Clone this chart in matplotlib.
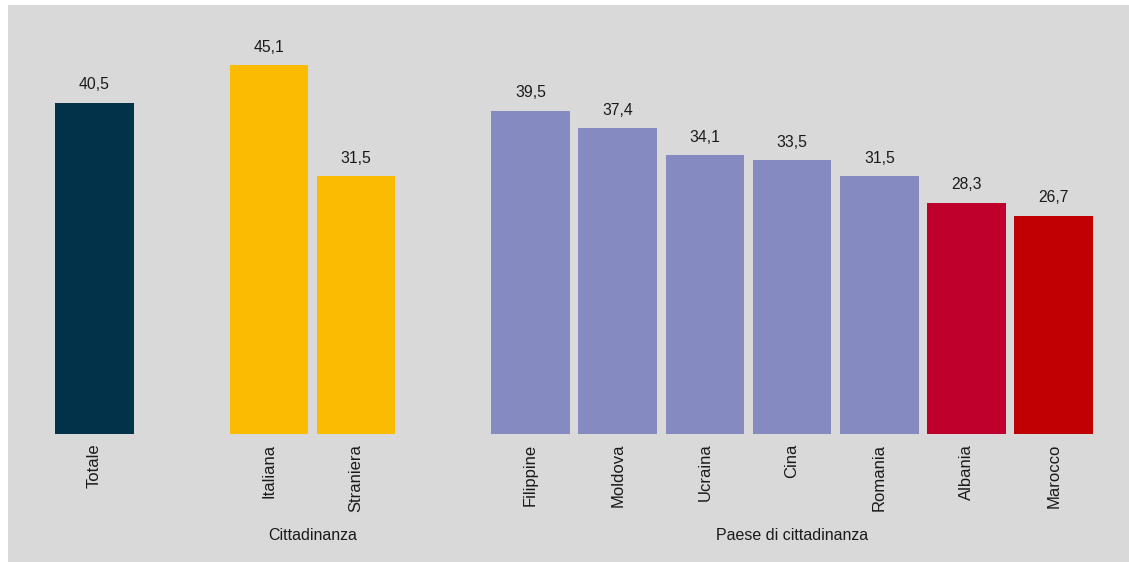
import matplotlib
matplotlib.use("Agg")
import matplotlib.pyplot as plt
from matplotlib.patches import Rectangle

plt.rcParams['font.family'] = ['Liberation Sans', 'DejaVu Sans']

categories = ["Totale", "Italiana", "Straniera", "Filippine", "Moldova", "Ucraina",
              "Cina", "Romania", "Albania", "Marocco"]
values = [40.5, 45.1, 31.5, 39.5, 37.4, 34.1, 33.5, 31.5, 28.3, 26.7]
positions = [0, 2, 3, 5, 6, 7, 8, 9, 10, 11]
colors = ["#02314a", "#fbbb00", "#fbbb00", "#858bc0", "#858bc0", "#858bc0",
          "#858bc0", "#858bc0", "#c0002c", "#c00000"]
group_labels = ["Cittadinanza", "Paese di cittadinanza"]
group_spans = [(2, 3), (5, 11)]

W, H = 1129, 562
fig = plt.figure(figsize=(W / 100, H / 100), dpi=100)
fig.patch.set_facecolor("white")
fig.patches.append(Rectangle((8 / W, 0), 1 - 8 / W, 1 - 5 / H, transform=fig.transFigure,
                             facecolor="#d9d9d9", edgecolor="none", zorder=-10))

# axes geometry in pixels
left_px, right_px = 16, 1106
top_px, base_px = 30, 434
ax = fig.add_axes([left_px / W, (H - base_px) / H, (right_px - left_px) / W, (base_px - top_px) / H])
ax.set_facecolor("none")
ax.set_xlim(-0.9, 11.6)
ax.set_ylim(0, (base_px - top_px) / 8.18)

ax.bar(positions, values, width=0.9, color=colors)
for p, v in zip(positions, values):
    ax.annotate(f"{v:.1f}".replace(".", ","), (p, v), xytext=(0, 7.5), textcoords="offset points",
                ha="center", va="bottom", fontsize=11.3, color="#1a1a1a")

ax.set_xticks(positions)
ax.set_xticklabels(categories, rotation=90, fontsize=12, color="#1a1a1a")
ax.tick_params(axis="x", length=0, pad=7)
ax.set_yticks([])
for s in ax.spines.values():
    s.set_visible(False)

for lab, (a, b) in zip(group_labels, group_spans):
    ax.annotate(lab, ((a + b) / 2, 0), xycoords=("data", "axes fraction"),
                xytext=(0, -101), textcoords="offset pixels",
                ha="center", va="center", fontsize=11.5, color="#1a1a1a")

fig.savefig("out.png", dpi=100)
